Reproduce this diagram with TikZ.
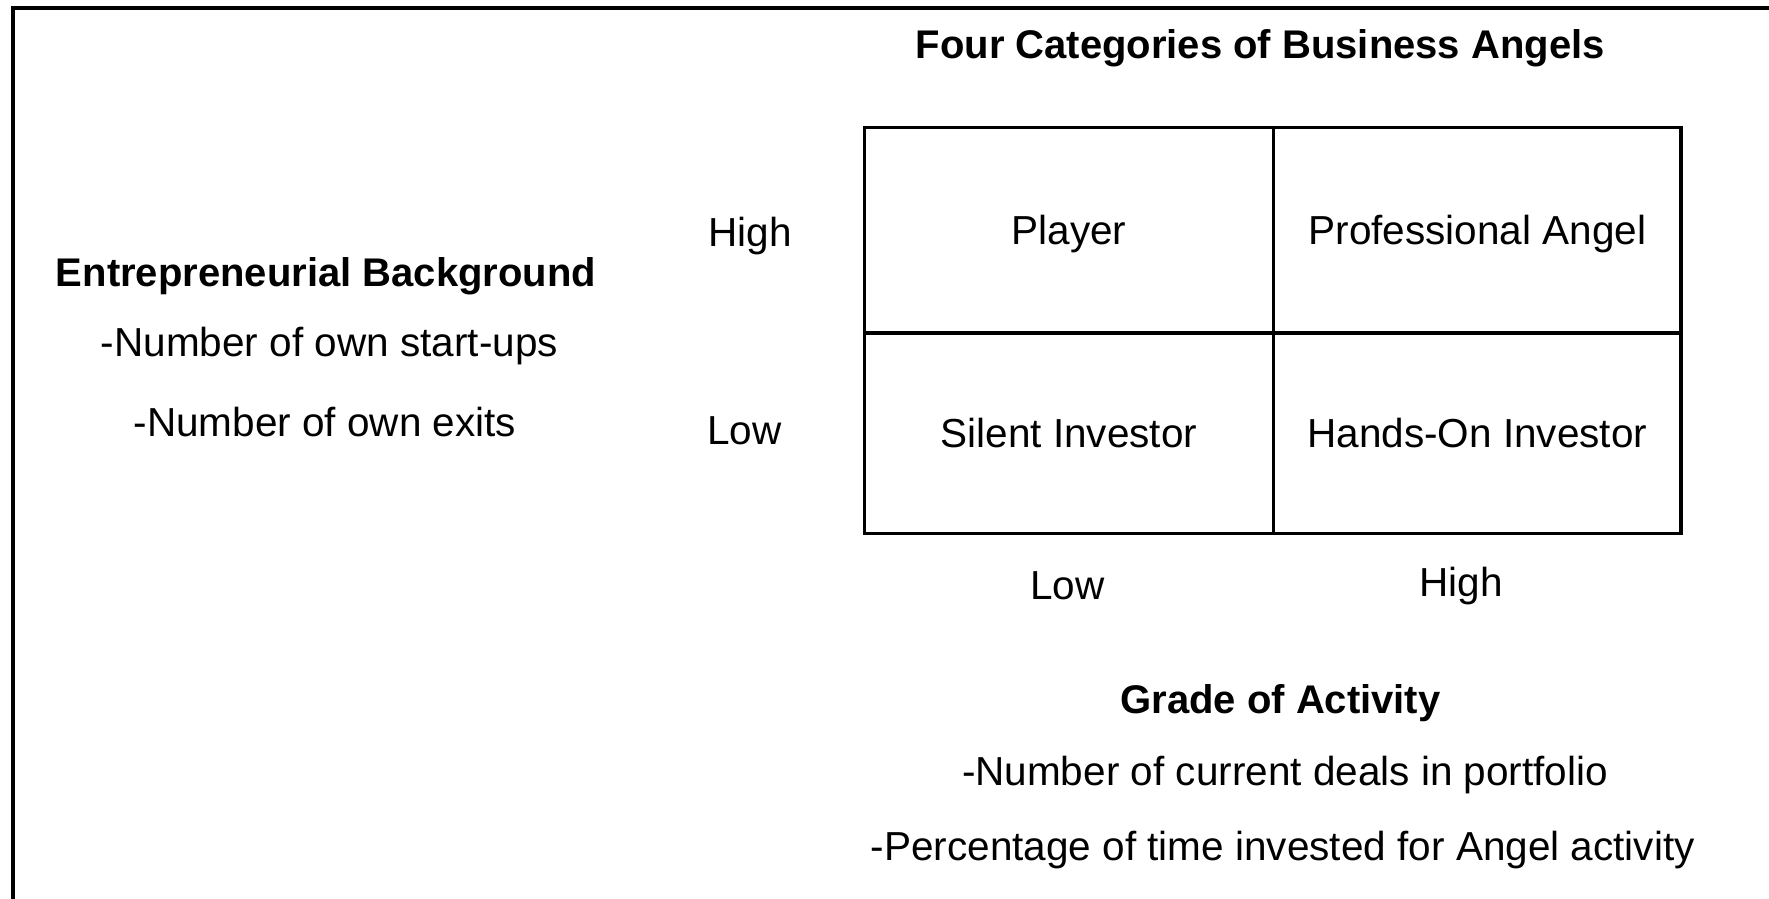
\documentclass[tikz,border=0pt]{standalone}
\usepackage{fontspec}
\setmainfont{Liberation Sans}
\begin{document}
\begin{tikzpicture}[x=1.1282pt,y=-1.1282pt,
  txt/.style={font=\fontsize{40.5}{48}\selectfont, inner sep=0pt, anchor=center},
  btxt/.style={font=\fontsize{40}{48}\selectfont\bfseries, inner sep=0pt, anchor=center},
  cell/.style={draw, line width=3.4pt, inner sep=0pt, text height=36.5pt, text depth=8.1pt,
    font=\fontsize{40.5}{48}\selectfont}
]
\useasboundingbox (0,0) rectangle (1568,796);
\fill[white] (0,0) rectangle (1568,796);
% outer frame (right and bottom edges lie outside the picture)
\coordinate (fbl) at (11.5,802);
\coordinate (ftl) at (11.5,7);
\coordinate (ftr) at (1575,7);
\draw[line width=3.6pt] (fbl) -- (ftl) -- (ftr);
% title
\node[btxt] (title) at (1117,43) {Four Categories of Business Angels};
% grid
\node[cell, minimum width=409.5pt, minimum height=205.3pt] (player) at (947.5,204) {Player};
\node[cell, minimum width=407.2pt, minimum height=205.3pt] (pro) at (1309.5,204) {Professional Angel};
\node[cell, minimum width=409.5pt, minimum height=200.8pt] (silent) at (947.5,384) {Silent Investor};
\node[cell, minimum width=407.2pt, minimum height=200.8pt] (hands) at (1309.5,384) {Hands-On Investor};
% vertical axis
\node[txt] (yhigh) at (665,209) {High};
\node[txt] (ylow) at (660,382) {Low};
\node[btxt] (eb) at (289,245) {Entrepreneurial Background};
\node[txt] (eb1) at (292,307) {-Number of own start-ups};
\node[txt] (eb2) at (288,374) {-Number of own exits};
% horizontal axis
\node[txt] (xlow) at (946,519) {Low};
\node[txt] (xhigh) at (1295,519) {High};
\node[btxt] (ga) at (1135,623) {Grade of Activity};
\node[txt] (ga1) at (1139,687) {-Number of current deals in portfolio};
\node[txt] (ga2) at (1137,753) {-Percentage of time invested for Angel activity};
\end{tikzpicture}
\end{document}
